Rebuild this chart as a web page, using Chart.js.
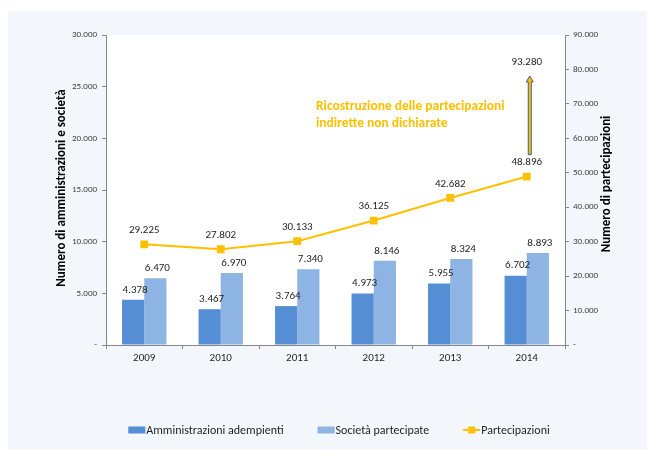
<!DOCTYPE html>
<html>
<head>
<meta charset="utf-8">
<script src="https://cdn.jsdelivr.net/npm/chart.js@4"></script>
<style>
  html, body { margin: 0; padding: 0; background: #fff; }
  canvas { display: block; }
</style>
</head>
<body>
<canvas id="chart" width="647" height="450"></canvas>
<script>
const YEARS = ['2009', '2010', '2011', '2012', '2013', '2014'];
const AMMINISTRAZIONI = [4378, 3467, 3764, 4973, 5955, 6702];
const SOCIETA = [6470, 6970, 7340, 8146, 8324, 8893];
const PARTECIPAZIONI = [29225, 27802, 30133, 36125, 42682, 48896];
const PARTECIPAZIONI_RICOSTRUITE = 93280;
const NOTE_LINES = ['Ricostruzione delle partecipazioni', 'indirette non dichiarate'];

const FONT = 'Carlito, Calibri, Lato, sans-serif';
const DARK_BLUE = '#558ed5';
const LIGHT_BLUE = '#8db4e2';
const YELLOW = '#ffc000';
const AXIS_GREY = '#868686';

function fmt(v) {
  if (v === 0) return '-';
  return String(v).replace(/\B(?=(\d{3})+(?!\d))/g, '.');
}

function drawVerticalTitle(ctx, text, x, y) {
  ctx.save();
  ctx.translate(x, y);
  ctx.rotate(-Math.PI / 2);
  ctx.font = 'bold 13px ' + FONT;
  ctx.fillStyle = '#000';
  ctx.textAlign = 'center';
  ctx.textBaseline = 'middle';
  ctx.fillText(text, 0, 0);
  ctx.restore();
}

const backgroundPlugin = {
  id: 'background',
  beforeDraw(chart) {
    const { ctx, chartArea: a } = chart;
    ctx.save();
    ctx.fillStyle = '#ffffff';
    ctx.fillRect(0, 0, chart.width, chart.height);
    ctx.fillStyle = '#f3f6fb';
    ctx.fillRect(8, 11, chart.width - 8, chart.height - 11);
    ctx.fillStyle = '#ffffff';
    ctx.fillRect(a.left, a.top, a.right - a.left, a.bottom - a.top);
    ctx.restore();
  }
};

const extrasPlugin = {
  id: 'extras',
  afterDatasetsDraw(chart) {
    const { ctx, chartArea: a } = chart;
    ctx.save();
    ctx.fillStyle = '#1f1f1f';
    ctx.font = '11px ' + FONT;
    ctx.textAlign = 'center';
    ctx.textBaseline = 'middle';

    // bar labels
    [0, 1].forEach(di => {
      const ds = chart.data.datasets[di];
      chart.getDatasetMeta(di).data.forEach((bar, i) => {
        ctx.fillText(fmt(ds.data[i]), bar.x + 2, bar.y - 10);
      });
    });

    // line labels
    const lineMeta = chart.getDatasetMeta(2);
    lineMeta.data.forEach((pt, i) => {
      ctx.fillText(fmt(PARTECIPAZIONI[i]), pt.x, pt.y - 14);
    });

    // arrow from the last point up to the reconstructed value
    const last = lineMeta.data[lineMeta.data.length - 1];
    const ax = last.x + 3;
    const yBottom = last.y - 22;
    const yTop = a.top + 41;
    ctx.beginPath();
    ctx.moveTo(ax - 1.5, yBottom);
    ctx.lineTo(ax - 1.5, yTop + 6);
    ctx.lineTo(ax - 3.5, yTop + 6);
    ctx.lineTo(ax, yTop);
    ctx.lineTo(ax + 3.5, yTop + 6);
    ctx.lineTo(ax + 1.5, yTop + 6);
    ctx.lineTo(ax + 1.5, yBottom);
    ctx.closePath();
    ctx.fillStyle = YELLOW;
    ctx.fill();
    ctx.strokeStyle = '#3b5c8f';
    ctx.lineWidth = 1;
    ctx.stroke();

    ctx.fillStyle = '#1f1f1f';
    ctx.fillText(fmt(PARTECIPAZIONI_RICOSTRUITE), last.x, a.top + 27);

    // note
    ctx.fillStyle = YELLOW;
    ctx.font = 'bold 13.5px ' + FONT;
    ctx.textAlign = 'left';
    NOTE_LINES.forEach((t, i) => ctx.fillText(t, a.left + 210, a.top + 72 + i * 17));
    ctx.restore();
  },
  afterDraw(chart) {
    const { ctx } = chart;
    drawVerticalTitle(ctx, 'Numero di amministrazioni e società', 62, 188);
    drawVerticalTitle(ctx, 'Numero di partecipazioni', 607, 184);

    // legend
    ctx.save();
    ctx.font = '12px ' + FONT;
    ctx.textBaseline = 'middle';
    const items = chart.data.datasets.map(ds => ({ label: ds.label, type: ds.type, color: ds.type === 'line' ? ds.borderColor : ds.backgroundColor }));
    const markW = 17, gap = 34, textGap = 1;
    const widths = items.map(it => markW + textGap + ctx.measureText(it.label).width);
    const total = widths.reduce((s, w) => s + w, 0) + gap * (items.length - 1);
    let x = 339 - total / 2;
    const y = 430;
    items.forEach((it, i) => {
      if (it.type === 'line') {
        ctx.strokeStyle = it.color;
        ctx.lineWidth = 2;
        ctx.beginPath();
        ctx.moveTo(x, y);
        ctx.lineTo(x + markW, y);
        ctx.stroke();
        ctx.fillStyle = it.color;
        ctx.fillRect(x + markW / 2 - 3.5, y - 3.5, 7, 7);
      } else {
        ctx.fillStyle = it.color;
        ctx.fillRect(x, y - 3.5, markW, 7);
      }
      ctx.fillStyle = '#1f1f1f';
      ctx.fillText(it.label, x + markW + textGap, y + 0.5);
      x += widths[i] + gap;
    });
    ctx.restore();
  }
};

new Chart(document.getElementById('chart'), {
  data: {
    labels: YEARS,
    datasets: [
      { type: 'bar', label: 'Amministrazioni adempienti', data: AMMINISTRAZIONI, backgroundColor: DARK_BLUE, yAxisID: 'y', order: 2,
        categoryPercentage: 0.58, barPercentage: 1 },
      { type: 'bar', label: 'Società partecipate', data: SOCIETA, backgroundColor: LIGHT_BLUE, yAxisID: 'y', order: 2,
        categoryPercentage: 0.58, barPercentage: 1 },
      { type: 'line', label: 'Partecipazioni', data: PARTECIPAZIONI, borderColor: YELLOW, backgroundColor: YELLOW, borderWidth: 2,
        pointStyle: 'rect', pointRadius: 5.5, pointBorderWidth: 0, tension: 0, yAxisID: 'y1', order: 1 }
    ]
  },
  options: {
    responsive: false,
    animation: false,
    layout: { padding: { left: 8, top: 35, right: 0, bottom: 0 } },
    plugins: { legend: { display: false }, tooltip: { enabled: false } },
    scales: {
      x: {
        grid: { drawOnChartArea: false, offset: true, tickLength: 4, color: AXIS_GREY },
        border: { color: AXIS_GREY },
        ticks: { font: { family: FONT, size: 11 }, color: '#1f1f1f', padding: 3 },
        afterFit(scale) { scale.height = 105; }
      },
      y: {
        position: 'left', min: 0, max: 30000,
        grid: { drawOnChartArea: false, tickLength: 4, color: AXIS_GREY },
        border: { color: AXIS_GREY },
        ticks: { stepSize: 5000, font: { family: FONT, size: 9 }, color: '#404040', padding: 5, callback: v => fmt(v) },
        afterFit(scale) { scale.width = 98; }
      },
      y1: {
        position: 'right', min: 0, max: 90000,
        grid: { drawOnChartArea: false, tickLength: 4, color: AXIS_GREY },
        border: { color: AXIS_GREY },
        ticks: { stepSize: 10000, font: { family: FONT, size: 9 }, color: '#404040', padding: 4, callback: v => fmt(v) },
        afterFit(scale) { scale.width = 82; }
      }
    }
  },
  plugins: [backgroundPlugin, extrasPlugin]
});
</script>
</body>
</html>
